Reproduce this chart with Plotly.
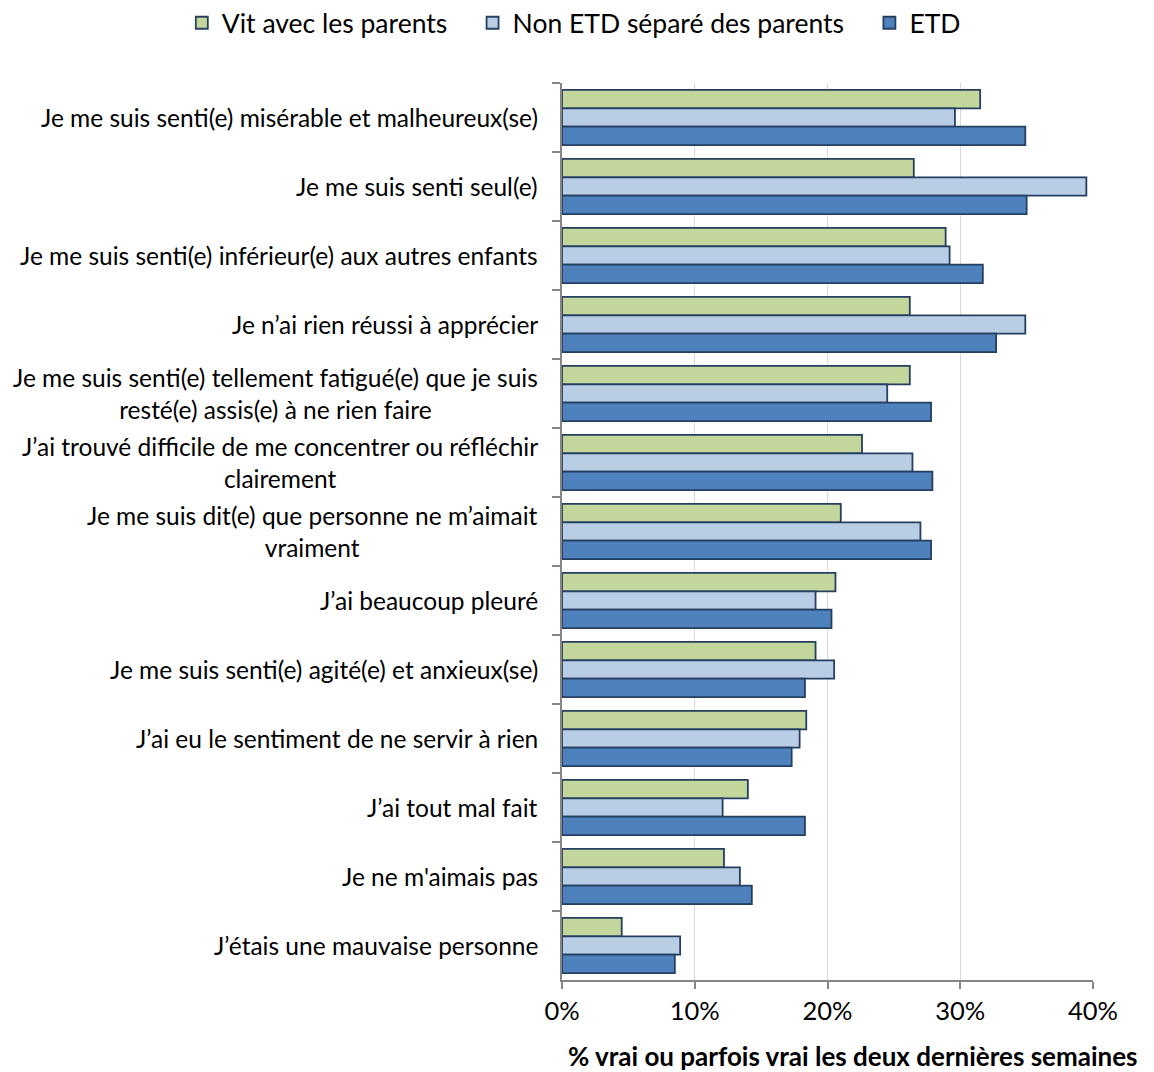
import plotly.graph_objects as go

# Survey items (top to bottom)
categories = [
    "Je me suis senti(e) misérable et malheureux(se)",
    "Je me suis senti seul(e)",
    "Je me suis senti(e) inférieur(e) aux autres enfants",
    "Je n’ai rien réussi à apprécier",
    "Je me suis senti(e) tellement fatigué(e) que je suis<br>resté(e) assis(e) à ne rien faire",
    "J’ai trouvé difficile de me concentrer ou réfléchir<br>clairement",
    "Je me suis dit(e) que personne ne m’aimait<br>vraiment",
    "J’ai beaucoup pleuré",
    "Je me suis senti(e) agité(e) et anxieux(se)",
    "J’ai eu le sentiment de ne servir à rien",
    "J’ai tout mal fait",
    "Je ne m'aimais pas",
    "J’étais une mauvaise personne",
]

# Share answering "true" or "sometimes true" (%)
vit_parents = [31.5, 26.5, 28.9, 26.2, 26.2, 22.6, 21.0, 20.6, 19.1, 18.4, 14.0, 12.2, 4.5]
non_etd = [29.6, 39.5, 29.2, 34.9, 24.5, 26.4, 27.0, 19.1, 20.5, 17.9, 12.1, 13.4, 8.9]
etd = [34.9, 35.0, 31.7, 32.7, 27.8, 27.9, 27.8, 20.3, 18.3, 17.3, 18.3, 14.3, 8.5]

series_names = ["Vit avec les parents", "Non ETD séparé des parents", "ETD"]
x_ticks = [0, 10, 20, 30, 40]
x_tick_text = ["0%", "10%", "20%", "30%", "40%"]
axis_title = "% vrai ou parfois vrai les deux dernières semaines"

FONT = "Lato, 'Open Sans', sans-serif"
fills = ["#C3D69B", "#B9CDE5", "#4F81BD"]
outline = "#243F60"

# Legend entries padded with no-break spaces for wider spacing between items
legend_pad = ["\u00a0\u00a0\u00a0", "\u00a0\u00a0\u00a0", ""]

fig = go.Figure()
for name, pad, vals, col in zip(series_names, legend_pad,
                                [vit_parents, non_etd, etd], fills):
    fig.add_trace(go.Bar(
        y=categories, x=vals, name=name + pad, orientation="h",
        marker=dict(color=col, line=dict(color=outline, width=1.8)),
    ))

# Category labels drawn as annotations so wrapped lines are centred
for cat in categories:
    fig.add_annotation(
        x=0, xref="paper", y=cat, yref="y", text=cat,
        xanchor="right", yanchor="middle", align="center",
        xshift=-22, showarrow=False,
        font=dict(family=FONT, size=24.5, color="#000000"),
    )

fig.add_annotation(
    x=0, xref="paper", y=0, yref="paper", text="<b>" + axis_title + "</b>",
    xanchor="left", yanchor="top", yshift=-58, xshift=4, showarrow=False,
    font=dict(family=FONT, size=26, color="#000000"),
)

fig.update_layout(
    width=1154, height=1072,
    margin=dict(l=562, r=61, t=83, b=92, autoexpand=False),
    paper_bgcolor="white", plot_bgcolor="white",
    barmode="group", bargap=0.2, bargroupgap=0,
    font=dict(family=FONT, size=24, color="#000000"),
    showlegend=True,
    legend=dict(
        orientation="h", x=-0.716, xref="paper", xanchor="left",
        y=1.0936, yref="paper", yanchor="top",
        font=dict(family=FONT, size=26.5), itemwidth=30,
        traceorder="normal", bgcolor="rgba(0,0,0,0)",
    ),
    xaxis=dict(
        range=[0, 40], tickvals=x_ticks, ticktext=x_tick_text,
        showgrid=True, gridcolor="#D9D9D9", gridwidth=1,
        showline=True, linecolor="#868686", linewidth=2,
        ticks="outside", ticklen=7, tickcolor="#868686", tickwidth=2,
        tickfont=dict(family=FONT, size=25.5), zeroline=False,
    ),
    yaxis=dict(
        autorange="reversed", showticklabels=False,
        showline=True, linecolor="#868686", linewidth=2,
        ticks="outside", ticklen=8, tickcolor="#868686", tickwidth=2,
        tickson="boundaries", showgrid=False,
    ),
)

fig.write_html("out.html")
